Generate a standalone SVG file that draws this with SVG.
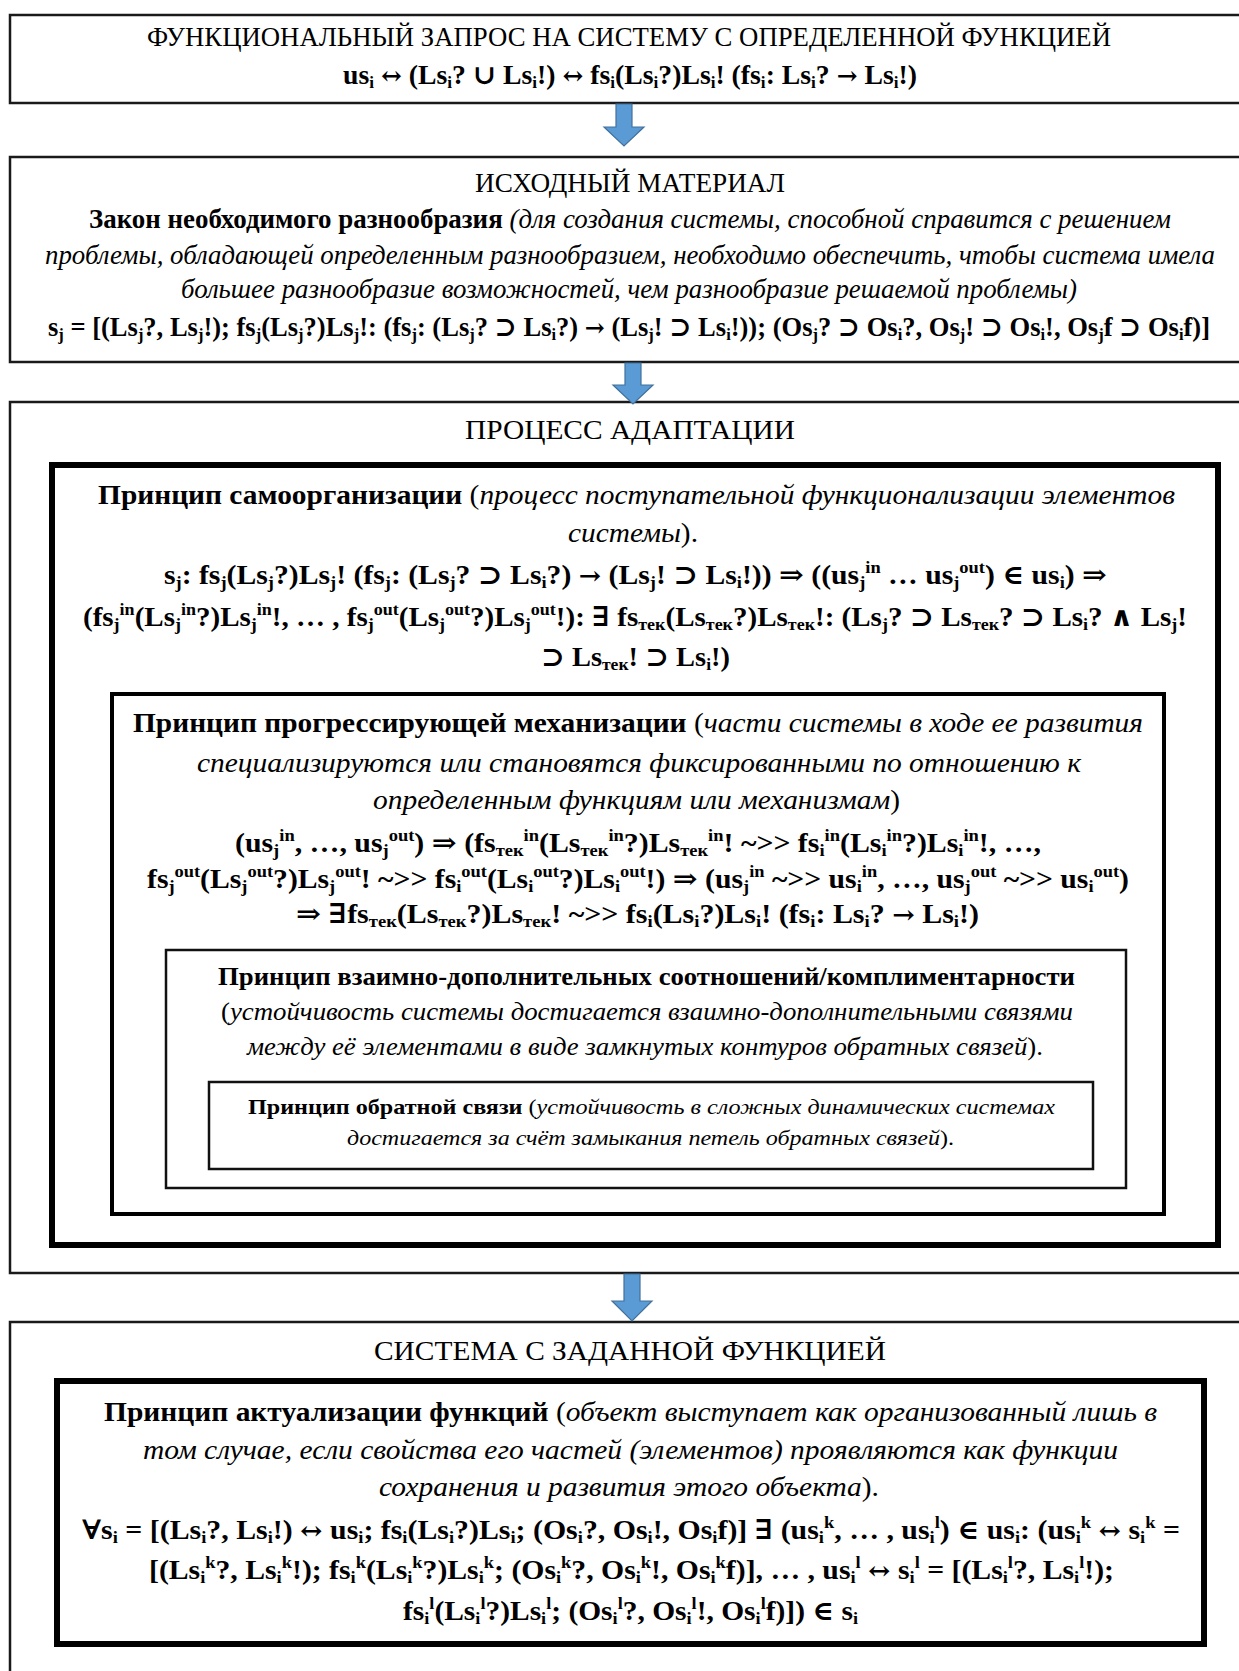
<svg xmlns="http://www.w3.org/2000/svg" width="1239" height="1671" viewBox="0 0 1239 1671">
<style>
text{font-family:"Liberation Serif","Times New Roman","DejaVu Serif",serif;fill:#000;}
.t27{font-size:27px}
.t25{font-size:25px}
.t22{font-size:22px}
.b{font-weight:bold}
.i{font-style:italic}
.sb{font-size:62%;baseline-shift:-4px}
.sp{font-size:62%;baseline-shift:11px}
.ar{font-family:"DejaVu Serif",serif;font-size:90%}
.box{fill:#fff;stroke:#1a1a1a;stroke-width:2.5}
.thick{fill:none;stroke:#000;stroke-width:6}
.mid{fill:none;stroke:#000;stroke-width:4}
.thin{fill:none;stroke:#111;stroke-width:2.5}
.arr{fill:#5B9BD5;stroke:#41719C;stroke-width:1.2}
</style>
<rect width="1239" height="1671" fill="#fff"/>

<g id="node-request">
<rect class="box" x="10" y="15" width="1260" height="88"/>
<text class="t27" x="147" y="46" textLength="964" lengthAdjust="spacingAndGlyphs">ФУНКЦИОНАЛЬНЫЙ ЗАПРОС НА СИСТЕМУ С ОПРЕДЕЛЕННОЙ ФУНКЦИЕЙ</text>
<text class="t27 b" x="343" y="84" textLength="574" lengthAdjust="spacingAndGlyphs">us<tspan class="sb">i</tspan> <tspan class="ar">↔</tspan> (Ls<tspan class="sb">i</tspan>? ∪ Ls<tspan class="sb">i</tspan>!) <tspan class="ar">↔</tspan> fs<tspan class="sb">i</tspan>(Ls<tspan class="sb">i</tspan>?)Ls<tspan class="sb">i</tspan>! (fs<tspan class="sb">i</tspan>: Ls<tspan class="sb">i</tspan>? <tspan class="ar">→</tspan> Ls<tspan class="sb">i</tspan>!)</text>
</g>

<g id="node-material">
<rect class="box" x="10" y="157" width="1260" height="205"/>
<text class="t27" x="475" y="192" textLength="310" lengthAdjust="spacingAndGlyphs">ИСХОДНЫЙ МАТЕРИАЛ</text>
<text class="t27" x="89" y="228" textLength="1082" lengthAdjust="spacingAndGlyphs"><tspan class="b">Закон необходимого разнообразия</tspan> <tspan class="i">(для создания системы, способной справится с решением</tspan></text>
<text class="t27 i" x="45" y="264" textLength="1170" lengthAdjust="spacingAndGlyphs">проблемы, обладающей определенным разнообразием, необходимо обеспечить, чтобы система имела</text>
<text class="t27 i" x="181" y="298" textLength="896" lengthAdjust="spacingAndGlyphs">большее разнообразие возможностей, чем разнообразие решаемой проблемы)</text>
<text class="t27 b" x="48" y="336" textLength="1162" lengthAdjust="spacingAndGlyphs">s<tspan class="sb">j</tspan> = [(Ls<tspan class="sb">j</tspan>?, Ls<tspan class="sb">j</tspan>!); fs<tspan class="sb">j</tspan>(Ls<tspan class="sb">j</tspan>?)Ls<tspan class="sb">j</tspan>!: (fs<tspan class="sb">j</tspan>: (Ls<tspan class="sb">j</tspan>? ⊃ Ls<tspan class="sb">i</tspan>?) <tspan class="ar">→</tspan> (Ls<tspan class="sb">j</tspan>! ⊃ Ls<tspan class="sb">i</tspan>!)); (Os<tspan class="sb">j</tspan>? ⊃ Os<tspan class="sb">i</tspan>?, Os<tspan class="sb">j</tspan>! ⊃ Os<tspan class="sb">i</tspan>!, Os<tspan class="sb">j</tspan>f ⊃ Os<tspan class="sb">i</tspan>f)]</text>
</g>

<g id="node-adaptation">
<rect class="box" x="10" y="402" width="1260" height="871"/>
<text class="t27" x="465" y="439" textLength="330" lengthAdjust="spacingAndGlyphs">ПРОЦЕСС АДАПТАЦИИ</text>
</g>

<g id="node-selforg">
<rect class="thick" x="52" y="465" width="1166" height="780"/>
<text class="t27" x="98" y="504" textLength="1077" lengthAdjust="spacingAndGlyphs"><tspan class="b">Принцип самоорганизации</tspan> (<tspan class="i">процесс поступательной функционализации элементов</tspan></text>
<text class="t27" x="568" y="542" textLength="130" lengthAdjust="spacingAndGlyphs"><tspan class="i">системы</tspan>).</text>
<text class="t27 b" x="164" y="584" textLength="943" lengthAdjust="spacingAndGlyphs">s<tspan class="sb">j</tspan>: fs<tspan class="sb">j</tspan>(Ls<tspan class="sb">j</tspan>?)Ls<tspan class="sb">j</tspan>! (fs<tspan class="sb">j</tspan>: (Ls<tspan class="sb">j</tspan>? ⊃ Ls<tspan class="sb">i</tspan>?) <tspan class="ar">→</tspan> (Ls<tspan class="sb">j</tspan>! ⊃ Ls<tspan class="sb">i</tspan>!)) ⇒ ((us<tspan class="sb">j</tspan><tspan class="sp">in</tspan> … us<tspan class="sb">j</tspan><tspan class="sp">out</tspan>) ∈ us<tspan class="sb">i</tspan>) ⇒</text>
<text class="t27 b" x="83" y="626" textLength="1104" lengthAdjust="spacingAndGlyphs">(fs<tspan class="sb">j</tspan><tspan class="sp">in</tspan>(Ls<tspan class="sb">j</tspan><tspan class="sp">in</tspan>?)Ls<tspan class="sb">j</tspan><tspan class="sp">in</tspan>!, … , fs<tspan class="sb">j</tspan><tspan class="sp">out</tspan>(Ls<tspan class="sb">j</tspan><tspan class="sp">out</tspan>?)Ls<tspan class="sb">j</tspan><tspan class="sp">out</tspan>!): ∃ fs<tspan class="sb">тек</tspan>(Ls<tspan class="sb">тек</tspan>?)Ls<tspan class="sb">тек</tspan>!: (Ls<tspan class="sb">j</tspan>? ⊃ Ls<tspan class="sb">тек</tspan>? ⊃ Ls<tspan class="sb">i</tspan>? ∧ Ls<tspan class="sb">j</tspan>!</text>
<text class="t27 b" x="541" y="666" textLength="189" lengthAdjust="spacingAndGlyphs">⊃ Ls<tspan class="sb">тек</tspan>! ⊃ Ls<tspan class="sb">i</tspan>!)</text>
</g>

<g id="node-mechanization">
<rect class="mid" x="112" y="694" width="1052" height="520"/>
<text class="t27" x="133" y="732" textLength="1010" lengthAdjust="spacingAndGlyphs"><tspan class="b">Принцип прогрессирующей механизации</tspan> (<tspan class="i">части системы в ходе ее развития</tspan></text>
<text class="t27 i" x="197" y="772" textLength="884" lengthAdjust="spacingAndGlyphs">специализируются или становятся фиксированными по отношению к</text>
<text class="t27" x="373" y="809" textLength="527" lengthAdjust="spacingAndGlyphs"><tspan class="i">определенным функциям или механизмам</tspan>)</text>
<text class="t27 b" x="235" y="852" textLength="806" lengthAdjust="spacingAndGlyphs">(us<tspan class="sb">j</tspan><tspan class="sp">in</tspan>, …, us<tspan class="sb">j</tspan><tspan class="sp">out</tspan>) ⇒ (fs<tspan class="sb">тек</tspan><tspan class="sp">in</tspan>(Ls<tspan class="sb">тек</tspan><tspan class="sp">in</tspan>?)Ls<tspan class="sb">тек</tspan><tspan class="sp">in</tspan>! ~&gt;&gt; fs<tspan class="sb">i</tspan><tspan class="sp">in</tspan>(Ls<tspan class="sb">i</tspan><tspan class="sp">in</tspan>?)Ls<tspan class="sb">i</tspan><tspan class="sp">in</tspan>!, …,</text>
<text class="t27 b" x="147" y="888" textLength="982" lengthAdjust="spacingAndGlyphs">fs<tspan class="sb">j</tspan><tspan class="sp">out</tspan>(Ls<tspan class="sb">j</tspan><tspan class="sp">out</tspan>?)Ls<tspan class="sb">j</tspan><tspan class="sp">out</tspan>! ~&gt;&gt; fs<tspan class="sb">i</tspan><tspan class="sp">out</tspan>(Ls<tspan class="sb">i</tspan><tspan class="sp">out</tspan>?)Ls<tspan class="sb">i</tspan><tspan class="sp">out</tspan>!) ⇒ (us<tspan class="sb">j</tspan><tspan class="sp">in</tspan> ~&gt;&gt; us<tspan class="sb">i</tspan><tspan class="sp">in</tspan>, …, us<tspan class="sb">j</tspan><tspan class="sp">out</tspan> ~&gt;&gt; us<tspan class="sb">i</tspan><tspan class="sp">out</tspan>)</text>
<text class="t27 b" x="296" y="923" textLength="683" lengthAdjust="spacingAndGlyphs">⇒ ∃fs<tspan class="sb">тек</tspan>(Ls<tspan class="sb">тек</tspan>?)Ls<tspan class="sb">тек</tspan>! ~&gt;&gt; fs<tspan class="sb">i</tspan>(Ls<tspan class="sb">i</tspan>?)Ls<tspan class="sb">i</tspan>! (fs<tspan class="sb">i</tspan>: Ls<tspan class="sb">i</tspan>? <tspan class="ar">→</tspan> Ls<tspan class="sb">i</tspan>!)</text>
</g>

<g id="node-complementarity">
<rect class="thin" x="166" y="950" width="960" height="238"/>
<text class="t25 b" x="218" y="985" textLength="857" lengthAdjust="spacingAndGlyphs">Принцип взаимно-дополнительных соотношений/комплиментарности</text>
<text class="t25" x="221" y="1020" textLength="852" lengthAdjust="spacingAndGlyphs">(<tspan class="i">устойчивость системы достигается взаимно-дополнительными связями</tspan></text>
<text class="t25" x="247" y="1055" textLength="796" lengthAdjust="spacingAndGlyphs"><tspan class="i">между её элементами в виде замкнутых контуров обратных связей</tspan>).</text>
</g>

<g id="node-feedback">
<rect class="thin" x="209" y="1082" width="884" height="87"/>
<text class="t22" x="248" y="1114" textLength="807" lengthAdjust="spacingAndGlyphs"><tspan class="b">Принцип обратной связи</tspan> (<tspan class="i">устойчивость в сложных динамических системах</tspan></text>
<text class="t22" x="347" y="1145" textLength="607" lengthAdjust="spacingAndGlyphs"><tspan class="i">достигается за счёт замыкания петель обратных связей</tspan>).</text>
</g>

<g id="node-system">
<rect class="box" x="10" y="1322" width="1260" height="400"/>
<text class="t27" x="374" y="1360" textLength="512" lengthAdjust="spacingAndGlyphs">СИСТЕМА С ЗАДАННОЙ ФУНКЦИЕЙ</text>
</g>

<g id="node-actualization">
<rect class="thick" x="57" y="1381" width="1147" height="263"/>
<text class="t27" x="104" y="1421" textLength="1053" lengthAdjust="spacingAndGlyphs"><tspan class="b">Принцип актуализации функций</tspan> (<tspan class="i">объект выступает как организованный лишь в</tspan></text>
<text class="t27 i" x="143" y="1459" textLength="975" lengthAdjust="spacingAndGlyphs">том случае, если свойства его частей (элементов) проявляются как функции</text>
<text class="t27" x="379" y="1496" textLength="500" lengthAdjust="spacingAndGlyphs"><tspan class="i">сохранения и развития этого объекта</tspan>).</text>
<text class="t27 b" x="82" y="1539" textLength="1098" lengthAdjust="spacingAndGlyphs">∀s<tspan class="sb">i</tspan> = [(Ls<tspan class="sb">i</tspan>?, Ls<tspan class="sb">i</tspan>!) <tspan class="ar">↔</tspan> us<tspan class="sb">i</tspan>; fs<tspan class="sb">i</tspan>(Ls<tspan class="sb">i</tspan>?)Ls<tspan class="sb">i</tspan>; (Os<tspan class="sb">i</tspan>?, Os<tspan class="sb">i</tspan>!, Os<tspan class="sb">i</tspan>f)] ∃ (us<tspan class="sb">i</tspan><tspan class="sp">k</tspan>, … , us<tspan class="sb">i</tspan><tspan class="sp">l</tspan>) ∈ us<tspan class="sb">i</tspan>: (us<tspan class="sb">i</tspan><tspan class="sp">k</tspan> <tspan class="ar">↔</tspan> s<tspan class="sb">i</tspan><tspan class="sp">k</tspan> =</text>
<text class="t27 b" x="149" y="1579" textLength="965" lengthAdjust="spacingAndGlyphs">[(Ls<tspan class="sb">i</tspan><tspan class="sp">k</tspan>?, Ls<tspan class="sb">i</tspan><tspan class="sp">k</tspan>!); fs<tspan class="sb">i</tspan><tspan class="sp">k</tspan>(Ls<tspan class="sb">i</tspan><tspan class="sp">k</tspan>?)Ls<tspan class="sb">i</tspan><tspan class="sp">k</tspan>; (Os<tspan class="sb">i</tspan><tspan class="sp">k</tspan>?, Os<tspan class="sb">i</tspan><tspan class="sp">k</tspan>!, Os<tspan class="sb">i</tspan><tspan class="sp">k</tspan>f)], … , us<tspan class="sb">i</tspan><tspan class="sp">l</tspan> <tspan class="ar">↔</tspan> s<tspan class="sb">i</tspan><tspan class="sp">l</tspan> = [(Ls<tspan class="sb">i</tspan><tspan class="sp">l</tspan>?, Ls<tspan class="sb">i</tspan><tspan class="sp">l</tspan>!);</text>
<text class="t27 b" x="403" y="1620" textLength="455" lengthAdjust="spacingAndGlyphs">fs<tspan class="sb">i</tspan><tspan class="sp">l</tspan>(Ls<tspan class="sb">i</tspan><tspan class="sp">l</tspan>?)Ls<tspan class="sb">i</tspan><tspan class="sp">l</tspan>; (Os<tspan class="sb">i</tspan><tspan class="sp">l</tspan>?, Os<tspan class="sb">i</tspan><tspan class="sp">l</tspan>!, Os<tspan class="sb">i</tspan><tspan class="sp">l</tspan>f)]) ∈ s<tspan class="sb">i</tspan></text>
</g>

<g id="connectors">
<polygon class="arr" points="616,104 632,104 632,127 644,127 624,146 604,127 616,127"/>
<polygon class="arr" points="625,363 641,363 641,385 653,385 633,404 613,385 625,385"/>
<polygon class="arr" points="624,1274 640,1274 640,1301 652,1301 632,1321 612,1301 624,1301"/>
</g>
</svg>
